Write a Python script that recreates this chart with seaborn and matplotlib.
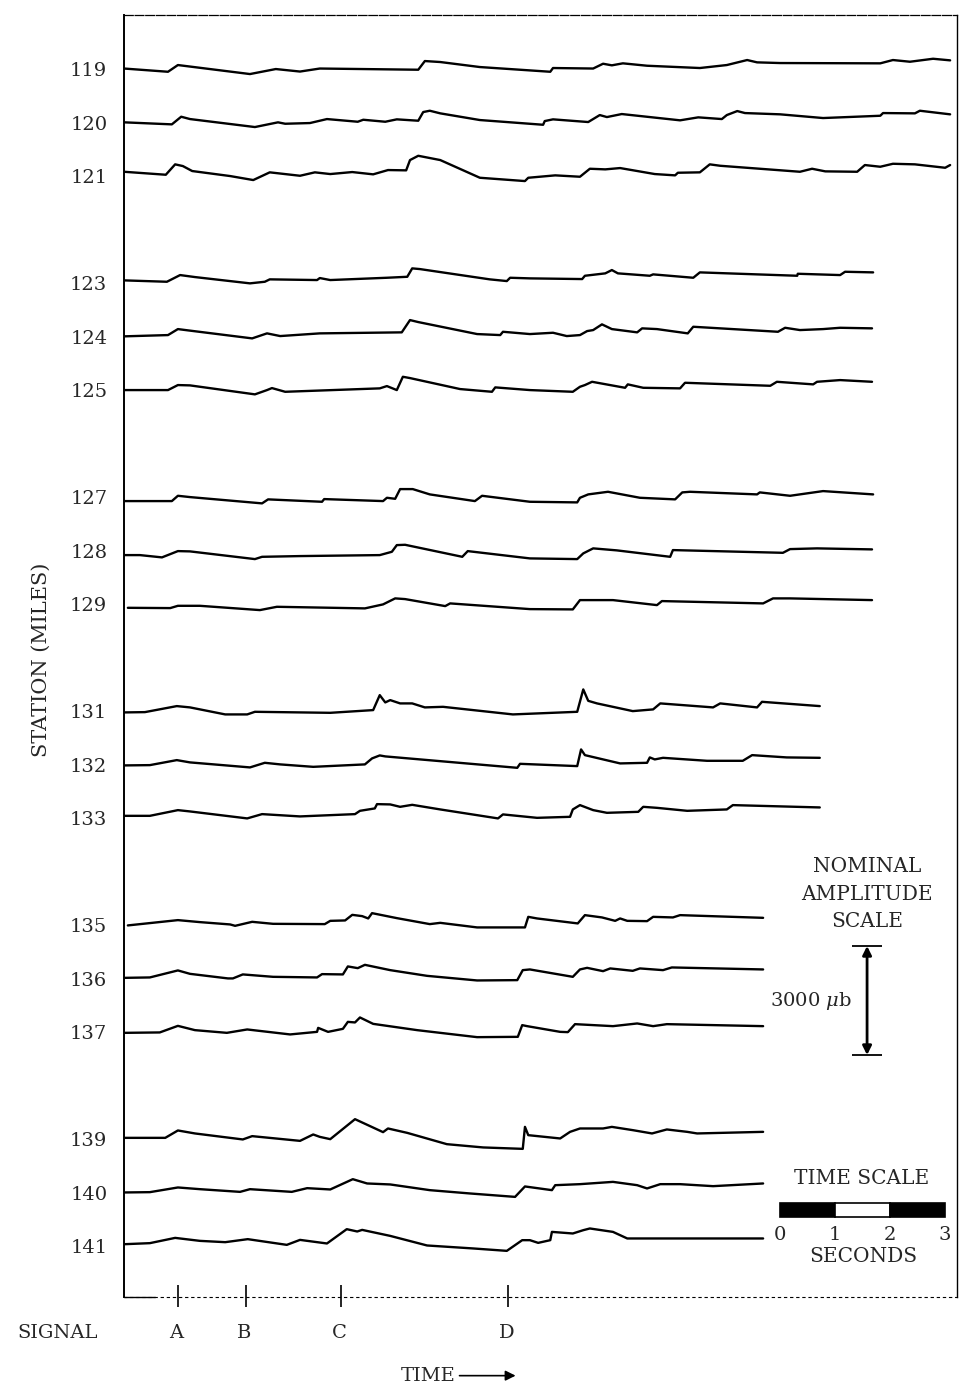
import numpy as np
import pandas as pd
import matplotlib
matplotlib.use("Agg")
import matplotlib.pyplot as plt
import seaborn as sns
from matplotlib.patches import Rectangle

# ---------------- data (time in seconds, amplitude in microbars) ----------------
STATIONS = [119, 120, 121, 123, 124, 125, 127, 128, 129,
            131, 132, 133, 135, 136, 137, 139, 140, 141]

T119_T = [0, 0.80, 0.98, 2.29, 2.76, 3.20, 3.56, 5.35, 5.47, 5.75, 6.47, 7.75, 7.80, 8.53, 8.71, 8.87,
          9.07, 9.51, 10.47, 10.96, 11.33, 11.51, 11.93, 13.75, 13.98, 14.29, 14.71, 15.02]
T119_A = [14, -75, 110, -138, 0, -69, 14, -19, 220, 193, 55, -75, 28, 14, 146, 102,
          157, 91, 28, 110, 248, 184, 165, 157, 248, 201, 283, 239]

T120_T = [0, 0.87, 1.04, 1.20, 2.38, 2.80, 2.93, 3.38, 3.69, 4.25, 4.35, 4.75, 4.96, 5.35, 5.44, 5.56,
          5.75, 6.47, 7.62, 7.65, 7.80, 8.44, 8.65, 8.78, 9.05, 10.11, 10.44, 10.87, 10.96, 11.15,
          11.29, 11.93, 12.71, 13.75, 13.80, 14.38, 14.47, 15.02]
T120_A = [6, -50, 160, 96, -124, 6, -33, -14, 96, 22, 77, 22, 88, 50, 289, 325,
          253, 69, -61, 41, 88, 14, 206, 151, 234, 61, 143, 96, 206, 316,
          261, 226, 124, 187, 261, 253, 325, 226]

T121_T = [0, 0.76, 0.93, 1.07, 1.24, 1.93, 2.35, 2.65, 3.20, 3.47, 3.75, 4.15, 4.53, 4.80, 5.13, 5.20,
          5.35, 5.75, 6.47, 7.29, 7.35, 7.84, 8.29, 8.47, 8.75, 9.02, 9.65, 10.02, 10.07, 10.47,
          10.65, 10.84, 12.29, 12.51, 12.75, 13.33, 13.47, 13.75, 13.98, 14.38, 14.93, 15.02]
T121_A = [118, 36, 322, 275, 138, 0, -110, 102, 8, 102, 55, 110, 47, 165, 157, 440,
          558, 440, -47, -138, -47, 19, -19, 201, 184, 220, 55, 19, 91, 102,
          322, 283, 118, 201, 129, 118, 303, 256, 338, 322, 228, 303]

T123_T = [0, 0.78, 1.02, 1.29, 2.29, 2.56, 2.65, 3.51, 3.56, 3.75, 4.78, 5.15, 5.24, 5.38, 6.65, 6.96,
          7.02, 7.38, 8.33, 8.38, 8.75, 8.87, 8.98, 9.56, 9.62, 10.35, 10.47, 11.51, 12.24, 12.25,
          13.02, 13.11, 13.62]
T123_A = [74, 36, 220, 165, -8, 36, 102, 83, 138, 83, 146, 173, 404, 385, 102, 55,
          146, 129, 110, 201, 267, 358, 267, 201, 239, 146, 294, 239, 201, 256,
          220, 311, 294]

T124_T = [0, 0.80, 0.98, 1.16, 2.33, 2.60, 2.84, 3.56, 5.05, 5.20, 5.35, 6.42, 6.84, 6.89, 7.38, 7.80,
          8.05, 8.29, 8.42, 8.53, 8.69, 8.87, 9.33, 9.42, 9.69, 10.25, 10.35, 11.89, 12.02, 12.29,
          12.71, 13.02, 13.60]
T124_A = [6, 41, 206, 171, -50, 88, 14, 88, 116, 454, 399, 69, 41, 132, 69, 105,
          14, 41, 151, 179, 336, 206, 116, 226, 206, 88, 270, 132, 242, 179,
          206, 242, 226]

T125_T = [0, 0.80, 0.98, 1.20, 2.38, 2.60, 2.69, 2.93, 4.65, 4.78, 4.96, 5.07, 5.20, 6.11, 6.69, 6.75,
          7.38, 8.16, 8.29, 8.38, 8.51, 9.11, 9.16, 9.44, 10.11, 10.20, 11.75, 11.87, 12.53, 12.60,
          13.02, 13.60]
T125_A = [0, 0, 138, 129, -118, 0, 55, -47, 47, 110, 0, 366, 330, 28, -47, 74,
          0, -47, 91, 138, 228, 63, 157, 63, 47, 201, 118, 228, 157, 228,
          275, 228]

T127_T = [0, 0.87, 0.98, 1.20, 2.51, 2.62, 3.60, 3.64, 4.71, 4.78, 4.93, 5.02, 5.25, 5.56, 6.38, 6.51,
          7.38, 8.24, 8.29, 8.44, 8.80, 9.38, 10.02, 10.15, 10.29, 11.51, 11.56, 12.11, 12.71, 13.62]
T127_A = [-110, -110, 36, 0, -173, -63, -129, -55, -110, -19, -47, 220, 220, 74, -110, 36,
          -129, -146, -19, 74, 146, -19, -63, 129, 146, 74, 129, 36, 165, 74]

T128_T = [0, 0.29, 0.69, 0.98, 1.20, 2.38, 2.51, 3.20, 4.65, 4.87, 4.96, 5.11, 6.15, 6.25, 7.38, 8.24,
          8.35, 8.53, 8.96, 9.93, 9.98, 11.98, 12.11, 12.60, 13.60]
T128_A = [-124, -124, -187, -14, -22, -234, -171, -151, -124, -33, 151, 160, -171, -14, -215, -234,
          -77, 61, 6, -171, 14, -61, 41, 61, 33]

T129_T = [0.07, 0.84, 0.98, 1.38, 2.47, 2.78, 4.38, 4.71, 4.93, 5.11, 5.84, 5.93, 7.38, 8.16, 8.29,
          8.89, 9.69, 9.78, 11.62, 11.80, 12.11, 13.60]
T129_A = [-102, -110, -47, -47, -165, -74, -118, -8, 157, 138, -55, 19, -138, -146, 110,
          110, -28, 83, 19, 157, 157, 110]

T131_T = [0, 0.38, 0.96, 1.20, 1.84, 2.24, 2.38, 3.75, 4.53, 4.65, 4.75, 4.84, 5.02, 5.24, 5.47, 5.80,
          7.07, 8.24, 8.35, 8.44, 8.60, 9.25, 9.62, 9.75, 10.71, 10.84, 11.51, 11.60, 12.65]
T131_A = [-36, -28, 138, 102, -91, -91, -19, -47, 28, 440, 239, 303, 212, 212, 102, 118,
          -91, -19, 597, 283, 212, 0, 47, 212, 102, 212, 102, 256, 138]

T132_T = [0, 0.47, 0.96, 1.20, 2.29, 2.56, 2.84, 3.44, 4.38, 4.51, 4.65, 4.75, 7.15, 7.20, 8.24, 8.31,
          8.38, 9.02, 9.51, 9.56, 9.65, 9.80, 10.60, 11.25, 11.42, 12.05, 12.65]
T132_A = [-22, -14, 124, 61, -77, 50, 6, -61, 6, 171, 253, 226, -88, 22, -41, 418,
          261, 33, 50, 198, 143, 187, 105, 105, 261, 198, 187]

T133_T = [0, 0.47, 0.98, 1.20, 2.24, 2.51, 3.20, 4.20, 4.29, 4.56, 4.60, 4.84, 5.02, 5.24, 5.75, 6.80,
          6.89, 7.51, 8.11, 8.16, 8.29, 8.53, 8.78, 9.35, 9.44, 9.69, 10.24, 10.96, 11.07, 12.65]
T133_A = [63, 63, 220, 184, -8, 110, 47, 110, 201, 267, 385, 377, 311, 366, 239, -8,
          102, 8, 36, 239, 358, 220, 146, 173, 311, 283, 201, 239, 358, 294]

T135_T = [0.07, 0.98, 1.38, 1.93, 2.02, 2.33, 2.71, 3.65, 3.75, 4.02, 4.15, 4.33, 4.44, 4.51, 4.96,
          5.56, 5.75, 6.42, 7.29, 7.35, 7.51, 8.25, 8.38, 8.69, 8.93, 9.02, 9.15, 9.51, 9.62, 9.98,
          10.11, 11.62]
T135_A = [-8, 138, 83, 19, -19, 91, 36, 28, 118, 129, 283, 248, 184, 330, 193,
          28, 63, -63, -63, 228, 184, 47, 275, 212, 118, 184, 118, 110, 228, 212,
          275, 201]

T136_T = [0.02, 0.47, 0.98, 1.20, 1.89, 1.98, 2.16, 2.71, 3.51, 3.60, 3.98, 4.07, 4.25, 4.38, 4.84,
          5.51, 6.42, 7.15, 7.25, 7.38, 8.16, 8.29, 8.42, 8.71, 8.84, 9.25, 9.38, 9.80, 9.96, 11.62]
T136_A = [22, 33, 226, 132, 6, 6, 116, 50, 33, 124, 116, 336, 289, 380, 234,
          77, -50, -41, 234, 253, 50, 253, 297, 206, 281, 215, 281, 234, 308, 253]

T137_T = [0.02, 0.65, 0.98, 1.29, 1.87, 2.24, 3.02, 3.51, 3.53, 3.71, 3.98, 4.07, 4.20, 4.29, 4.53,
          5.33, 6.42, 7.16, 7.24, 7.33, 7.93, 8.07, 8.20, 8.89, 9.33, 9.62, 9.87, 11.62]
T137_A = [-19, -8, 173, 55, -19, 74, -63, 8, 118, 8, 91, 283, 267, 404, 228,
          55, -138, -129, 193, 165, 8, 0, 220, 165, 239, 165, 220, 165]

T139_T = [0, 0.75, 0.98, 1.29, 2.16, 2.33, 3.20, 3.44, 3.56, 3.75, 4.20, 4.71, 4.80, 5.15, 5.87,
          6.53, 7.25, 7.29, 7.35, 7.93, 8.11, 8.29, 8.71, 8.87, 9.25, 9.60, 9.87, 10.24, 10.42, 11.62]
T139_A = [36, 36, 239, 157, -8, 83, -47, 129, 63, 0, 550, 193, 294, 173, -138,
          -228, -267, 338, 110, 19, 201, 294, 294, 338, 248, 157, 267, 201, 157, 201]

T140_T = [0.02, 0.47, 0.98, 1.38, 2.11, 2.29, 3.05, 3.33, 3.75, 4.16, 4.42, 4.84, 5.56, 6.29, 7.11,
          7.29, 7.78, 7.84, 8.29, 8.89, 9.33, 9.51, 9.75, 10.11, 10.71, 11.62]
T140_A = [6, 14, 143, 96, 22, 96, 22, 124, 88, 371, 253, 226, 69, -22, -116,
          171, 69, 206, 234, 297, 206, 116, 234, 234, 179, 253]

T141_T = [0.02, 0.47, 0.93, 1.38, 1.84, 2.25, 2.96, 3.20, 3.69, 4.05, 4.24, 4.33, 4.84, 5.51, 6.35,
          6.96, 7.24, 7.38, 7.53, 7.75, 7.78, 8.16, 8.35, 8.47, 8.89, 9.15, 11.62]
T141_A = [55, 83, 228, 146, 110, 193, 36, 173, 74, 468, 404, 448, 283, 19, -63,
          -129, 165, 165, 91, 165, 393, 349, 440, 487, 393, 212, 212]

SIGNAL_LABELS = ["A", "B", "C", "D"]
SIGNAL_TIMES = [0.98, 2.22, 3.95, 6.98]

AMP_SCALE_UB = 3000                 # nominal amplitude scale bar
TIME_SCALE_SEC = [0, 1, 2, 3]       # time scale bar ticks
TIME_SCALE_FILL = ["black", "white", "black"]

# ---------------- styling / geometry constants ----------------
MILES_PER_UB = (109 / 53.5) / 3000   # vertical plot scale: station-miles per microbar
X_MAX = 15.145
Y_TOP, Y_BOT = 117.99, 141.95
SERIF = ["DejaVu Serif"]

traces = {
    119: (T119_T, T119_A), 120: (T120_T, T120_A), 121: (T121_T, T121_A),
    123: (T123_T, T123_A), 124: (T124_T, T124_A), 125: (T125_T, T125_A),
    127: (T127_T, T127_A), 128: (T128_T, T128_A), 129: (T129_T, T129_A),
    131: (T131_T, T131_A), 132: (T132_T, T132_A), 133: (T133_T, T133_A),
    135: (T135_T, T135_A), 136: (T136_T, T136_A), 137: (T137_T, T137_A),
    139: (T139_T, T139_A), 140: (T140_T, T140_A), 141: (T141_T, T141_A),
}

rows = []
for st, (ts, amps) in traces.items():
    for order, (t, a) in enumerate(zip(ts, amps)):
        rows.append({"station": st, "order": order, "time": t,
                     "pos": st - a * MILES_PER_UB})
df = pd.DataFrame(rows)

sns.set_style("white")
plt.rcParams["font.family"] = SERIF
plt.rcParams["mathtext.fontset"] = "dejavuserif"

fig = plt.figure(figsize=(9.6, 13.87), dpi=100)
ax = fig.add_axes([124 / 960, 1 - 1297 / 1387, 833 / 960, 1282 / 1387])

sns.lineplot(data=df, x="time", y="pos", units="station", estimator=None, sort=False,
             color="black", linewidth=1.7, ax=ax, legend=False)

ax.set_xlim(0, X_MAX)
ax.set_ylim(Y_BOT, Y_TOP)
ax.set_xticks([])
ax.set_yticks(STATIONS)
ax.set_yticklabels([str(s) for s in STATIONS], fontsize=14)
ax.tick_params(axis="y", length=0, pad=12)
ax.set_xlabel("")
ax.set_ylabel("STATION (MILES)", fontsize=15)
ax.yaxis.set_label_coords(-0.088, 0.497)

for side in ["left", "right", "top", "bottom"]:
    ax.spines[side].set_visible(True)
    ax.spines[side].set_color("black")
ax.spines["left"].set_linewidth(1.4)
ax.spines["right"].set_linewidth(1.0)
ax.spines["top"].set_linewidth(0.9)
ax.spines["top"].set_linestyle((0, (7, 1.5)))
ax.spines["bottom"].set_linewidth(0.8)
ax.spines["bottom"].set_linestyle((0, (2, 3.5)))

# short solid start of the signal line
ax.plot([0, 0.56], [Y_BOT, Y_BOT], color="black", lw=1.0, clip_on=False)

# signal marks
ax.vlines(SIGNAL_TIMES, Y_BOT - 0.22, Y_BOT + 0.19, color="black", lw=1.2, clip_on=False)
for lab, t in zip(SIGNAL_LABELS, SIGNAL_TIMES):
    ax.text(t - 0.03, 142.62, lab, ha="center", va="center", fontsize=14, clip_on=False)
ax.text(-1.2, 142.62, "SIGNAL", ha="center", va="center", fontsize=14, clip_on=False)

# TIME arrow
ax.text(5.53, 143.42, "TIME", ha="center", va="center", fontsize=14, clip_on=False)
ax.annotate("", xy=(7.12, 143.42), xytext=(6.1, 143.42), annotation_clip=False,
            arrowprops=dict(arrowstyle="-|>", color="black", lw=1.2,
                            mutation_scale=15, shrinkA=0, shrinkB=0))

# nominal amplitude scale
amp_x = 13.51
amp_top = 135.39
amp_bot = amp_top + AMP_SCALE_UB * MILES_PER_UB
for i, line in enumerate(["NOMINAL", "AMPLITUDE", "SCALE"]):
    ax.text(13.51, 133.90 + 0.52 * i, line, ha="center", va="center", fontsize=14.5)
ax.annotate("", xy=(amp_x, amp_top), xytext=(amp_x, amp_bot),
            arrowprops=dict(arrowstyle="<|-|>", color="black", lw=2.0,
                            mutation_scale=13, shrinkA=0, shrinkB=0))
ax.hlines([amp_top, amp_bot], amp_x - 0.27, amp_x + 0.27, color="black", lw=1.3)
ax.text(amp_x - 0.28, (amp_top + amp_bot) / 2, f"{AMP_SCALE_UB} $\\mu$b",
        ha="right", va="center", fontsize=14)

# time scale
ts0 = 11.93
ax.text(13.42, 139.73, "TIME SCALE", ha="center", va="center", fontsize=14.5)
for i, fc in enumerate(TIME_SCALE_FILL):
    ax.add_patch(Rectangle((ts0 + TIME_SCALE_SEC[i], 140.20), 1, 0.25,
                           facecolor=fc, edgecolor="black", lw=1.2))
for s in TIME_SCALE_SEC:
    ax.text(ts0 + s, 140.79, str(s), ha="center", va="center", fontsize=14, clip_on=False)
ax.text(13.45, 141.19, "SECONDS", ha="center", va="center", fontsize=14.5)

fig.savefig("out.png", dpi=100)
